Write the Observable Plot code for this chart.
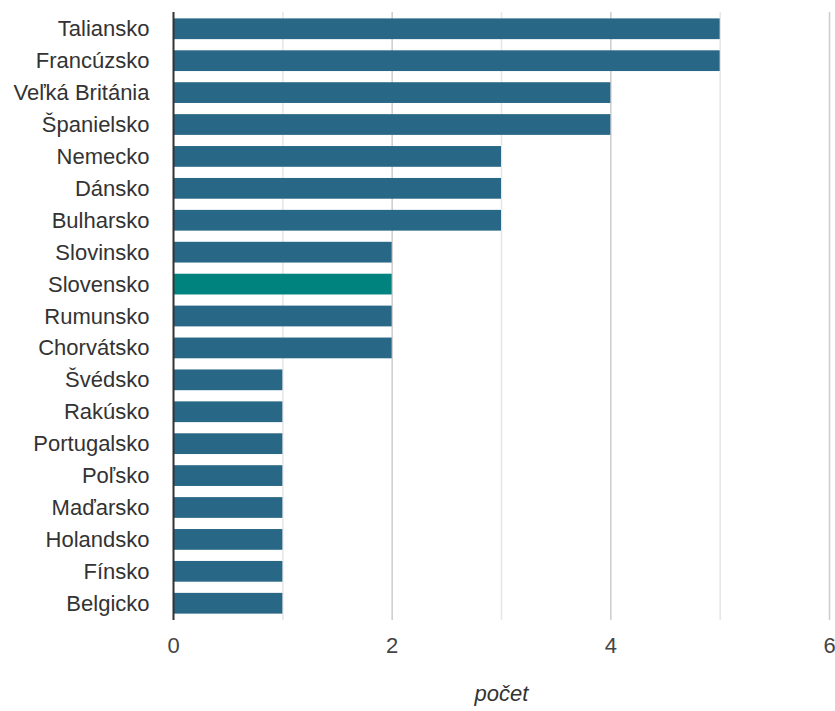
<!DOCTYPE html>
<html>
<head>
<meta charset="utf-8">
<script src="https://cdn.jsdelivr.net/npm/d3@7"></script>
<script src="https://cdn.jsdelivr.net/npm/@observablehq/plot@0.6"></script>
<style>
  html, body { margin: 0; padding: 0; background: #fff; }
</style>
</head>
<body>
<div id="chart"></div>
<script>
const countries = ["Taliansko","Francúzsko","Veľká Británia","Španielsko","Nemecko","Dánsko","Bulharsko","Slovinsko","Slovensko","Rumunsko","Chorvátsko","Švédsko","Rakúsko","Portugalsko","Poľsko","Maďarsko","Holandsko","Fínsko","Belgicko"];
const counts = [5,5,4,4,3,3,3,2,2,2,2,1,1,1,1,1,1,1,1];
const highlight = "Slovensko";
const gridValues = [1,2,3,4,5,6];
const xTicks = [0,2,4,6];
const xLabel = "počet";

const data = countries.map((c, i) => ({country: c, value: counts[i]}));

const chart = Plot.plot({
  width: 835,
  height: 711,
  marginLeft: 173,
  marginRight: 6,
  marginTop: 12,
  marginBottom: 91,
  style: {fontSize: "22px", fontFamily: "'Liberation Sans', Arial, sans-serif", color: "#333", background: "#fff", overflow: "visible"},
  x: {domain: [0, 6]},
  y: {domain: countries, paddingInner: 0.35, paddingOuter: 0.2, round: false},
  marks: [
    Plot.ruleX(gridValues, {stroke: d => d % 2 === 0 ? "#cccccc" : "#e6e6e6", strokeWidth: 1.5}),
    Plot.barX(data, {x: "value", y: "country", fill: d => d.country === highlight ? "#00827f" : "#286785"}),
    Plot.ruleX([0], {stroke: "#333", strokeWidth: 2}),
    Plot.axisY({tickSize: 0, tickPadding: 24, label: null, fontSize: 22, fill: "#333"}),
    Plot.axisX({ticks: xTicks, tickFormat: d3.format("d"), tickSize: 0, tickPadding: 17, label: null, fontSize: 22, fill: "#444"}),
    Plot.text([xLabel], {frameAnchor: "bottom", dy: 80, fontStyle: "italic", fontSize: 22, fill: "#333"})
  ]
});
document.getElementById("chart").appendChild(chart);
</script>
</body>
</html>
